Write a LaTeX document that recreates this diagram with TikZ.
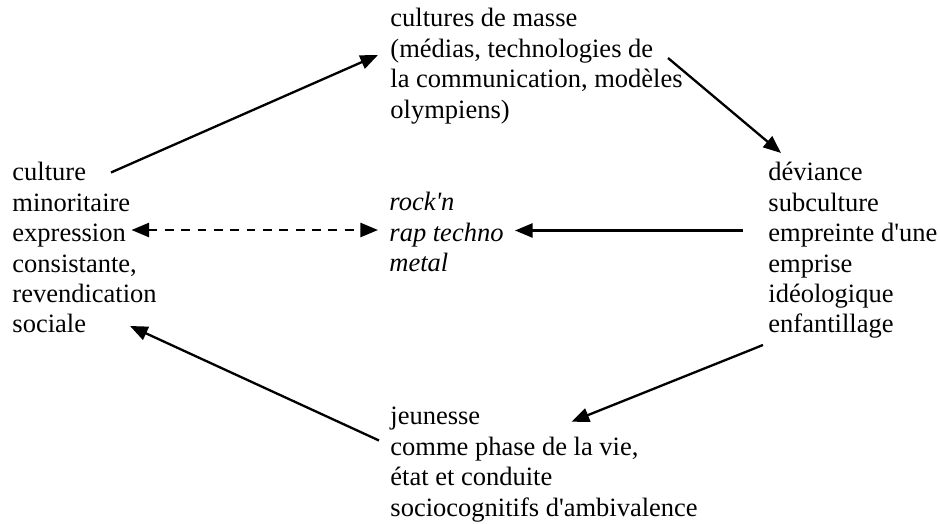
\documentclass[tikz,border=0pt]{standalone}
\usepackage{fontspec}
\setmainfont{Liberation Serif}
\usetikzlibrary{arrows.meta}
\begin{document}
\begin{tikzpicture}[x=0.4528pt,y=-0.4528pt,
  txt/.style={anchor=base west, inner sep=0pt, font=\fontsize{12}{13.75}\selectfont},
  tip/.tip={Triangle[length=8pt,width=6.4pt]},
  conn/.style={line width=1.05pt, -tip},
  dconn/.style={line width=1.05pt, dash pattern=on 4pt off 3.4pt, tip-tip}]
\useasboundingbox (0,0) rectangle (940,524);
\node[txt] (left) at (12,181) {\begin{tabular}[t]{@{}l@{}}culture\\minoritaire\\expression\\consistante,\\revendication\\sociale\end{tabular}};
\node[txt] (top) at (390,27) {\begin{tabular}[t]{@{}l@{}}cultures de masse\\(médias, technologies de\\la communication, modèles\\olympiens)\end{tabular}};
\node[txt] (right) at (768,181) {\begin{tabular}[t]{@{}l@{}}déviance\\subculture\\empreinte d\textquotesingle une\\emprise\\idéologique\\enfantillage\end{tabular}};
\node[txt] (mid) at (389,211) {\begin{tabular}[t]{@{}l@{}}\itshape rock\textquotesingle n\\\itshape rap techno\\\itshape metal\end{tabular}};
\node[txt] (bot) at (390,425) {\begin{tabular}[t]{@{}l@{}}jeunesse\\comme phase de la vie,\\état et conduite\\sociocognitifs d\textquotesingle ambivalence\end{tabular}};
% connector end points
\coordinate (l-top) at (111,172.5);
\coordinate (t-in) at (378,55);
\coordinate (t-out) at (668,58);
\coordinate (r-in) at (781,153);
\coordinate (r-mid) at (743,230.5);
\coordinate (m-in) at (515,230.5);
\coordinate (l-mid) at (131.5,230);
\coordinate (m-left) at (378,230);
\coordinate (r-bot) at (763,345);
\coordinate (b-in) at (571.5,421.7);
\coordinate (b-out) at (379,440.5);
\coordinate (l-bot) at (130,326);
\draw[conn] (l-top) -- (t-in);
\draw[conn] (t-out) -- (r-in);
\draw[conn] (r-mid) -- (m-in);
\draw[dconn] (l-mid) -- (m-left);
\draw[conn] (r-bot) -- (b-in);
\draw[conn] (b-out) -- (l-bot);
\end{tikzpicture}
\end{document}
